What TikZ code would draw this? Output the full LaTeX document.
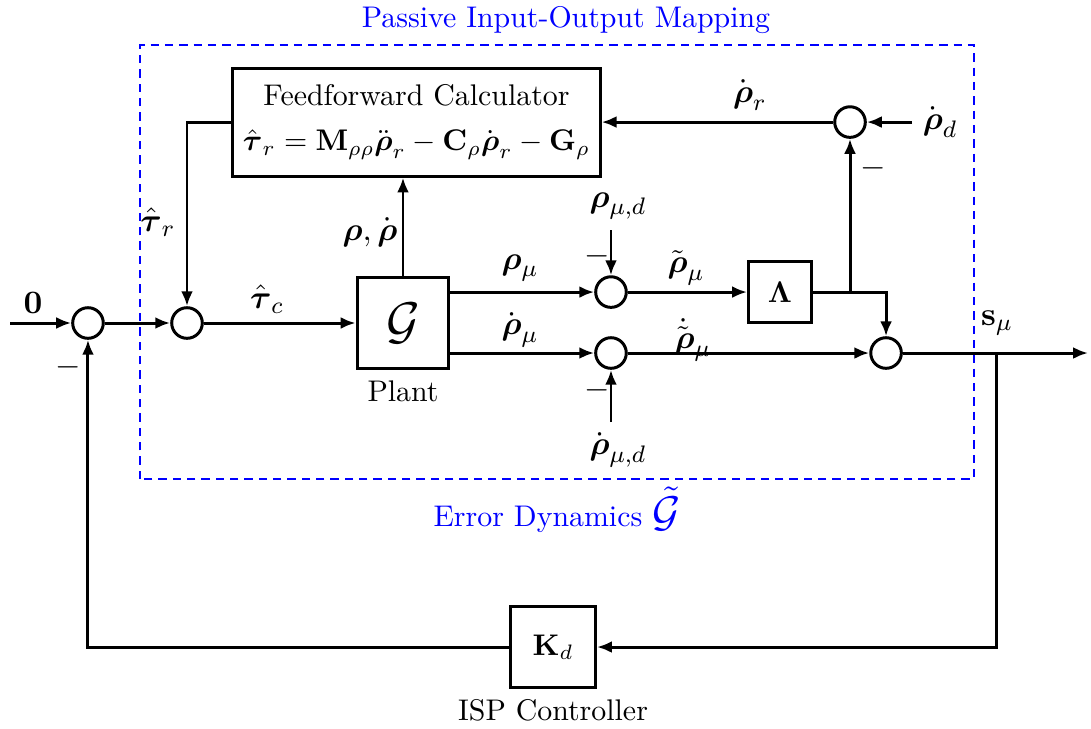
\documentclass[tikz,border=0pt]{standalone}
\usepackage{amsmath}
\usepackage{xcolor}
\usetikzlibrary{positioning, calc, arrows.meta}

\begin{document}
\begin{tikzpicture}[
    sumcirc/.style={draw, circle, line width=1pt, minimum size=0.36cm, inner sep=0pt},
    blockbox/.style={draw, rectangle, line width=1pt, inner sep=0pt},
    sigline/.style={line width=1pt, -{Latex[length=5pt,width=4pt]}},
    siglbl/.style={font=\fontsize{11pt}{13pt}\selectfont},
    errbox/.style={draw=blue, dash pattern=on 2.8pt off 2pt, line width=0.5pt}
  ]
        \useasboundingbox (0,0) rectangle (12.835,8.565);

        % Error dynamics frame
        \draw[errbox] (1.647,2.929) rectangle (11.459,8.035);
        \node[text=blue] (passlbl) at (6.659,8.329) {Passive Input-Output Mapping};
        \node[text=blue] (errlbl) at (6.553,2.565) {Error Dynamics {\Large$\tilde{\mathcal{G}}$}};

        % Blocks
        \node[blockbox, minimum width=4.32cm, minimum height=1.27cm, align=center] (ff) at (4.9,7.129)
            {Feedforward Calculator\\[3pt]
             $\hat{\boldsymbol{\tau}}_r = \mathbf{M}_{\rho\rho}\ddot{\boldsymbol{\rho}}_r - \mathbf{C}_\rho\dot{\boldsymbol{\rho}}_r - \mathbf{G}_\rho$};
        \node[blockbox, minimum width=1.08cm, minimum height=1.07cm] (plant) at (4.741,4.765) {\LARGE$\mathcal{G}$};
        \node[below=0pt of plant] (plantlbl) {Plant};
        \node[blockbox, minimum width=0.74cm, minimum height=0.72cm] (lam) at (9.176,5.129) {$\boldsymbol{\Lambda}$};
        \node[blockbox, minimum width=1.0cm, minimum height=0.95cm] (kd) at (6.506,0.953) {$\mathbf{K}_d$};
        \node[below=0pt of kd] (kdlbl) {ISP Controller};

        % Summing junctions
        \node[sumcirc] (sumA) at (1.035,4.765) {};
        \node[sumcirc] (sumB) at (2.2,4.765) {};
        \node[sumcirc] (sumC) at (7.188,5.129) {};
        \node[sumcirc] (sumD) at (7.188,4.412) {};
        \node[sumcirc] (sumE) at (10.424,4.412) {};
        \node[sumcirc] (sumF) at (10.0,7.129) {};

        % Free ends
        \coordinate (inp) at (0.118,4.765);
        \coordinate (outp) at (12.8,4.412);
        \coordinate (split) at (11.729,4.412);
        \coordinate (lamsplit) at (10.0,5.129);

        % Signal labels
        \node[siglbl] (zerolbl) at (0.388,5.0) {$\mathbf{0}$};
        \node[siglbl] (taurlbl) at (1.859,5.953) {$\hat{\boldsymbol{\tau}}_r$};
        \node[siglbl] (tauclbl) at (3.141,5.047) {$\hat{\boldsymbol{\tau}}_c$};
        \node[siglbl] (rholbl) at (4.353,5.835) {$\boldsymbol{\rho},\dot{\boldsymbol{\rho}}$};
        \node[siglbl] (rmulbl) at (6.118,5.412) {$\boldsymbol{\rho}_\mu$};
        \node[siglbl] (rdmulbl) at (6.118,4.682) {$\dot{\boldsymbol{\rho}}_\mu$};
        \node[siglbl] (rtlbl) at (8.071,5.412) {$\tilde{\boldsymbol{\rho}}_\mu$};
        \node[siglbl] (rtdlbl) at (8.153,4.565) {$\dot{\tilde{\boldsymbol{\rho}}}_\mu$};
        \node[siglbl] (rdrlbl) at (8.824,7.447) {$\dot{\boldsymbol{\rho}}_r$};
        \node[siglbl] (rdd) at (11.059,7.129) {$\dot{\boldsymbol{\rho}}_d$};
        \node[siglbl] (smulbl) at (11.729,4.765) {$\mathbf{s}_\mu$};
        \node[siglbl] (rmud) at (7.271,6.141) {$\boldsymbol{\rho}_{\mu,d}$};
        \node[siglbl] (rdmud) at (7.271,3.271) {$\dot{\boldsymbol{\rho}}_{\mu,d}$};

        % Minus signs
        \node[siglbl] (mA) at (0.8,4.247) {$-$};
        \node[siglbl] (mC) at (7.024,5.553) {$-$};
        \node[siglbl] (mD) at (7.024,3.976) {$-$};
        \node[siglbl] (mF) at (10.271,6.588) {$-$};

        % Connections
        \draw[sigline] (inp) -- (sumA);
        \draw[sigline] (sumA) -- (sumB);
        \draw[sigline] (sumB) -- (plant);
        \draw[sigline] (ff.west) -| (sumB);
        \draw[sigline] (plant.north) -- (plant.north |- ff.south);
        \draw[sigline] (plant.east |- sumC) -- (sumC);
        \draw[sigline] (plant.east |- sumD) -- (sumD);
        \draw[sigline] (sumC |- rmud.south) -- (sumC);
        \draw[sigline] (sumD |- rdmud.north) -- (sumD);
        \draw[sigline] (sumC) -- (lam);
        \draw[sigline] (sumD) -- (sumE);
        \draw[sigline] (lam.east) -| (sumE);
        \draw[sigline] (lamsplit) -- (sumF);
        \draw[sigline] (rdd) -- (sumF);
        \draw[sigline] (sumF) -- (ff.east);
        \draw[sigline] (sumE) -- (outp);
        \draw[sigline] (split) |- (kd.east);
        \draw[sigline] (kd.west) -| (sumA);
      \end{tikzpicture}
\end{document}
